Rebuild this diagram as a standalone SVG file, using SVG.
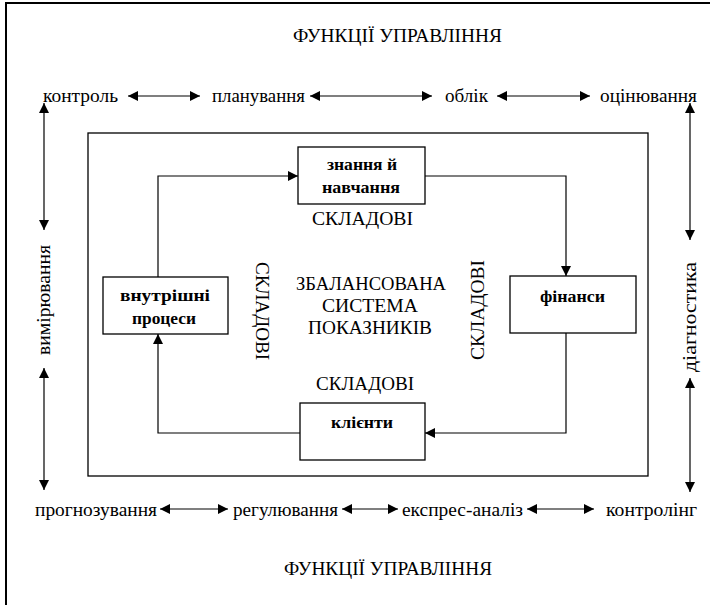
<svg xmlns="http://www.w3.org/2000/svg" width="710" height="605" viewBox="0 0 710 605" font-family="'Liberation Serif', 'Times New Roman', 'DejaVu Serif', serif">
<defs>
<marker id="ah" viewBox="0 0 10 10" refX="10" refY="5" markerWidth="10" markerHeight="10" markerUnits="userSpaceOnUse" orient="auto-start-reverse">
<path d="M0,0 L10,5 L0,10 Z" fill="#000"/>
</marker>
</defs>
<style>
text{font-family:'Liberation Serif','Times New Roman','DejaVu Serif',serif;fill:#000}
.t{font-size:18px}
.l{font-size:18px}
.b{font-size:16px;font-weight:bold}
.c{font-size:19px}
.box{fill:#fff;stroke:#000;stroke-width:1.3}
.ln{fill:none;stroke:#000;stroke-width:1.2}
</style>
<rect width="710" height="605" fill="#fff"/>
<path d="M6,605 V3 H710" fill="none" stroke="#000" stroke-width="2"/>
<g id="titles">
<text class="t" x="293" y="42" textLength="209" lengthAdjust="spacingAndGlyphs">ФУНКЦІЇ УПРАВЛІННЯ</text>
<text class="t" x="284" y="575" textLength="208" lengthAdjust="spacingAndGlyphs">ФУНКЦІЇ УПРАВЛІННЯ</text>
</g>
<g id="functions">
<text class="l" x="43" y="102" textLength="75" lengthAdjust="spacingAndGlyphs">контроль</text>
<text class="l" x="212" y="102" textLength="93" lengthAdjust="spacingAndGlyphs">планування</text>
<text class="l" x="445" y="102" textLength="43" lengthAdjust="spacingAndGlyphs">облік</text>
<text class="l" x="600" y="102" textLength="97" lengthAdjust="spacingAndGlyphs">оцінювання</text>
<text class="l" x="35" y="516" textLength="122" lengthAdjust="spacingAndGlyphs">прогнозування</text>
<text class="l" x="233" y="516" textLength="105" lengthAdjust="spacingAndGlyphs">регулювання</text>
<text class="l" x="402" y="516" textLength="121" lengthAdjust="spacingAndGlyphs">експрес-аналіз</text>
<text class="l" x="606" y="516" textLength="91" lengthAdjust="spacingAndGlyphs">контролінг</text>
<text class="l" transform="translate(50,355) rotate(-90)" textLength="110" lengthAdjust="spacingAndGlyphs">вимірювання</text>
<text class="l" transform="translate(696,372) rotate(-90)" textLength="110" lengthAdjust="spacingAndGlyphs">діагностика</text>
</g>
<g id="frame">
<rect class="box" x="88" y="133" width="560" height="343"/>
</g>
<g id="center">
<text class="c" x="296" y="290" textLength="150" lengthAdjust="spacingAndGlyphs">ЗБАЛАНСОВАНА</text>
<text class="c" x="322" y="312" textLength="96" lengthAdjust="spacingAndGlyphs">СИСТЕМА</text>
<text class="c" x="308" y="334" textLength="124" lengthAdjust="spacingAndGlyphs">ПОКАЗНИКІВ</text>
<text class="c" x="312" y="225" textLength="101" lengthAdjust="spacingAndGlyphs">СКЛАДОВІ</text>
<text class="c" x="316" y="390" textLength="98" lengthAdjust="spacingAndGlyphs">СКЛАДОВІ</text>
<text class="c" transform="translate(256,262) rotate(90)" textLength="98" lengthAdjust="spacingAndGlyphs">СКЛАДОВІ</text>
<text class="c" transform="translate(484,360) rotate(-90)" textLength="100" lengthAdjust="spacingAndGlyphs">СКЛАДОВІ</text>
</g>
<g id="n-knowledge">
<rect class="box" x="298" y="147" width="127" height="57"/>
<text class="b" x="327" y="170" textLength="70" lengthAdjust="spacingAndGlyphs">знання й</text>
<text class="b" x="322" y="193" textLength="78" lengthAdjust="spacingAndGlyphs">навчання</text>
</g>
<g id="n-internal">
<rect class="box" x="103" y="277" width="125" height="57"/>
<text class="b" x="120" y="301" textLength="90" lengthAdjust="spacingAndGlyphs">внутрішні</text>
<text class="b" x="132" y="324" textLength="64" lengthAdjust="spacingAndGlyphs">процеси</text>
</g>
<g id="n-finance">
<rect class="box" x="510" y="276" width="126" height="57"/>
<text class="b" x="540" y="302" textLength="65" lengthAdjust="spacingAndGlyphs">фінанси</text>
</g>
<g id="n-clients">
<rect class="box" x="300" y="403" width="125" height="57"/>
<text class="b" x="331" y="428" textLength="62" lengthAdjust="spacingAndGlyphs">клієнти</text>
</g>
<g id="connectors">
<path class="ln" d="M158,277 V176 H298" marker-end="url(#ah)"/>
<path class="ln" d="M425,176 H566 V276" marker-end="url(#ah)"/>
<path class="ln" d="M566,333 V433 H425" marker-end="url(#ah)"/>
<path class="ln" d="M300,433 H158 V334" marker-end="url(#ah)"/>
<path class="ln" d="M128,96 H200" marker-start="url(#ah)" marker-end="url(#ah)"/>
<path class="ln" d="M310,96 H432" marker-start="url(#ah)" marker-end="url(#ah)"/>
<path class="ln" d="M497,96 H590" marker-start="url(#ah)" marker-end="url(#ah)"/>
<path class="ln" d="M160,509 H228" marker-start="url(#ah)" marker-end="url(#ah)"/>
<path class="ln" d="M342,509 H398" marker-start="url(#ah)" marker-end="url(#ah)"/>
<path class="ln" d="M527,509 H594" marker-start="url(#ah)" marker-end="url(#ah)"/>
<path class="ln" d="M44,103 V230" marker-start="url(#ah)" marker-end="url(#ah)"/>
<path class="ln" d="M44,368 V490" marker-start="url(#ah)" marker-end="url(#ah)"/>
<path class="ln" d="M690,103 V240" marker-start="url(#ah)" marker-end="url(#ah)"/>
<path class="ln" d="M690,378 V492" marker-start="url(#ah)" marker-end="url(#ah)"/>
</g>
</svg>
